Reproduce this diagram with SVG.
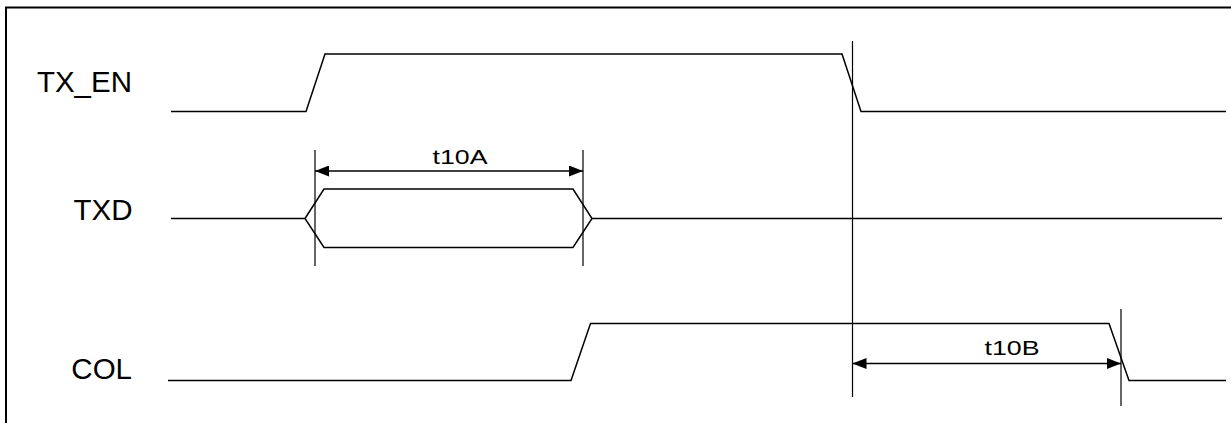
<svg xmlns="http://www.w3.org/2000/svg" width="1231" height="423" viewBox="0 0 1231 423">
  <style>
    .wave { fill: none; stroke: #000; stroke-width: 1.5; stroke-linejoin: miter; }
    .guide { fill: none; stroke: #000; stroke-width: 1.2; }
    .dim { fill: none; stroke: #000; stroke-width: 1.3; }
    .lbl { font-family: "Liberation Sans", Arial, sans-serif; font-size: 29.5px; fill: #000; text-anchor: end; }
    .tlbl { font-family: "Liberation Sans", Arial, sans-serif; font-size: 21px; fill: #000; text-anchor: middle; }
  </style>
  <defs>
    <marker id="ah" viewBox="0 0 14 11" refX="14" refY="5.5" markerWidth="14" markerHeight="11" markerUnits="userSpaceOnUse" orient="auto-start-reverse">
      <path d="M0,0 L14,5.5 L0,11 Z" fill="#000"/>
    </marker>
  </defs>
  <rect x="6" y="7.5" width="1300" height="500" fill="#fff" stroke="#000" stroke-width="2"/>

  <g id="tx_en">
    <text class="lbl" x="132" y="91.5">TX_EN</text>
    <path class="wave" d="M171,111.5 H306 L325,54 H842 L861,111.5 H1226"/>
  </g>
  <g id="txd">
    <text class="lbl" x="132.5" y="219.5">TXD</text>
    <path class="wave" d="M171,218.5 H305 M592,218.5 H1222"/>
    <path class="wave" d="M305,218.5 L324,189 H573 L592,218.5 L573,247.5 H324 Z"/>
  </g>
  <g id="col">
    <text class="lbl" x="132" y="378.5">COL</text>
    <path class="wave" d="M168,380.5 H571 L590.5,323.5 H1109 L1129,380.5 H1226"/>
  </g>
  <g id="t10a">
    <text class="tlbl" x="460" y="164" textLength="55" lengthAdjust="spacingAndGlyphs">t10A</text>
  </g>
  <g id="t10b">
    <text class="tlbl" x="1012" y="355" textLength="55" lengthAdjust="spacingAndGlyphs">t10B</text>
  </g>
  <g id="connectors">
    <line class="guide" x1="852.5" y1="41" x2="852.5" y2="397"/>
    <line class="guide" x1="315" y1="150" x2="315" y2="266"/>
    <line class="guide" x1="583" y1="150" x2="583" y2="266"/>
    <line class="guide" x1="1121" y1="309" x2="1121" y2="406"/>
    <line class="dim" x1="315" y1="171" x2="583" y2="171" marker-start="url(#ah)" marker-end="url(#ah)"/>
    <line class="dim" x1="852.5" y1="363.5" x2="1121" y2="363.5" marker-start="url(#ah)" marker-end="url(#ah)"/>
  </g>
</svg>
